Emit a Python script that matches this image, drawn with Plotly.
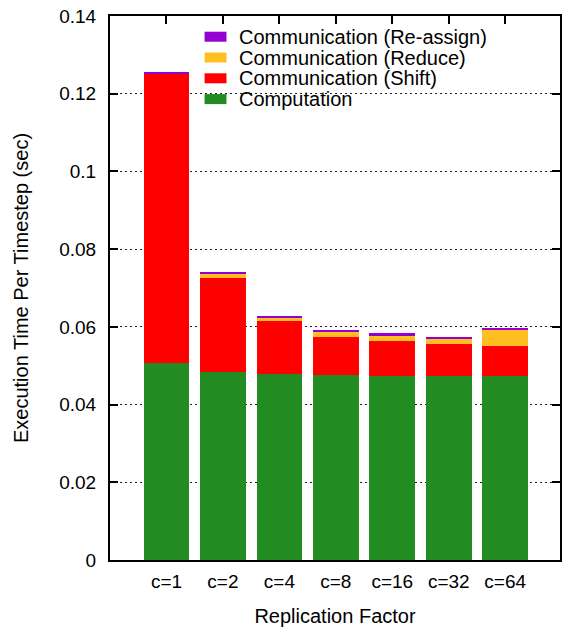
import plotly.graph_objects as go

categories = ["c=1", "c=2", "c=4", "c=8", "c=16", "c=32", "c=64"]
computation = [0.0506, 0.0485, 0.0478, 0.0475, 0.0473, 0.0473, 0.0473]
comm_shift = [0.0745, 0.0242, 0.0136, 0.0098, 0.0090, 0.0082, 0.0079]
comm_reduce = [0.0001, 0.0008, 0.0010, 0.0015, 0.0015, 0.0015, 0.0041]
comm_reassign = [0.0004, 0.0006, 0.0005, 0.0005, 0.0005, 0.0003, 0.0003]

series_names = ["Computation", "Communication (Shift)",
                "Communication (Reduce)", "Communication (Re-assign)"]
series_values = [computation, comm_shift, comm_reduce, comm_reassign]
series_colors = ["#228B22", "#FF0000", "#FFBE22", "#9400D3"]

FONT = "Liberation Sans, Arial, Helvetica, sans-serif"

# plot-area geometry (pixels) used to place the legend in paper coordinates
L, R, T, B = 110, 0, 16, 69
W, H = 562, 629
PW, PH = W - L - R, H - T - B

fig = go.Figure()
for name, vals, color in zip(series_names, series_values, series_colors):
    fig.add_trace(go.Bar(
        x=categories, y=vals, name=name,
        marker=dict(color=color, line=dict(width=0)),
        showlegend=False,
    ))

# legend drawn as swatches + text (top entry = last series)
legend_order = list(range(len(series_names)))[::-1]
shapes, annotations = [], []
for row, idx in enumerate(legend_order):
    cy = 36.7 + row * 20.8  # pixel centre of the row
    yc = (H - B - cy) / PH
    hh = 5.0 / PH
    shapes.append(dict(
        type="rect", xref="paper", yref="paper",
        x0=(205 - L) / PW, x1=(227 - L) / PW, y0=yc - hh, y1=yc + hh,
        fillcolor=series_colors[idx], line=dict(width=0), layer="above",
    ))
    annotations.append(dict(
        xref="paper", yref="paper", x=(238 - L) / PW, y=yc,
        xanchor="left", yanchor="middle", showarrow=False,
        text=series_names[idx],
        font=dict(family=FONT, size=20, color="black"),
    ))

fig.update_layout(
    width=W, height=H,
    margin=dict(l=L, r=R, t=T, b=B),
    barmode="stack",
    bargap=0.19,
    plot_bgcolor="white",
    paper_bgcolor="white",
    font=dict(family=FONT, size=19, color="black"),
    showlegend=False,
    shapes=shapes,
    annotations=annotations,
    xaxis=dict(
        range=[-1.0, 6.97],
        showline=True, linecolor="black", linewidth=2, mirror="ticks",
        ticks="inside", ticklen=8, tickwidth=1.5, tickcolor="black",
        layer="below traces",
        ticklabelstandoff=3,
        title=dict(text="Replication Factor", standoff=18,
                   font=dict(family=FONT, size=20, color="black")),
        showgrid=False,
    ),
    yaxis=dict(
        range=[0, 0.14], dtick=0.02,
        showline=True, linecolor="black", linewidth=2, mirror="ticks",
        ticks="inside", ticklen=8, tickwidth=1.5, tickcolor="black",
        showgrid=True, gridcolor="#222222", gridwidth=1, griddash="2px,3px",
        zeroline=False,
        ticklabelstandoff=8,
        title=dict(text="Execution Time Per Timestep (sec)", standoff=25,
                   font=dict(family=FONT, size=20, color="black")),
    ),
)

fig.write_html("out.html", config={"displayModeBar": False},
               post_script="document.body.style.margin='0';")
